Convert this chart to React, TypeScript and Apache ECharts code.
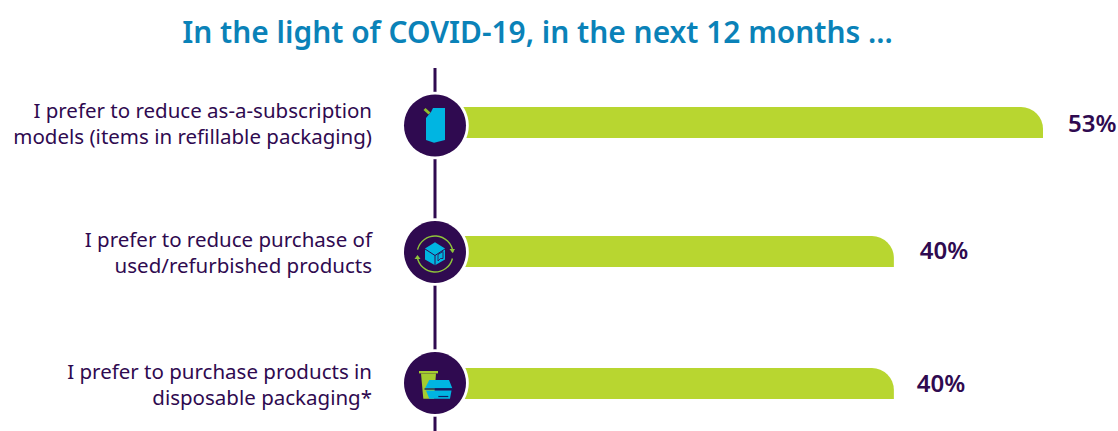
import React, { useEffect, useRef } from "react";
import * as echarts from "echarts";

const titleText = "In the light of COVID-19, in the next 12 months ...";
const categories = [
  "I prefer to reduce as-a-subscription\nmodels (items in refillable packaging)",
  "I prefer to reduce purchase of\nused/refurbished products",
  "I prefer to purchase products in\ndisposable packaging*",
];
const shares = [53, 40, 40];
const axisMax = 53;

const PURPLE = "#2f0a50";
const LIME = "#b8d630";
const BLUE = "#00b5e2";
const TITLE = "#0a82b8";
const FONT = "'Noto Sans', sans-serif";

const ROW_TOPS = [107, 236, 368];
const LABEL_GAPS = [25, 26, 23];
const LABEL_LIFT = [0, -2, -1];
const CIRCLE_Y = [125.5, 252, 383];
const CX = 435;

const poly = (points: number[][], fill: string, extra: any = {}) => ({
  type: "polygon", z: 13, shape: { points }, style: { fill, ...extra },
});
const seg = (x1: number, y1: number, x2: number, y2: number, stroke: string, lineWidth = 1) => ({
  type: "line", z: 14, shape: { x1, y1, x2, y2 }, style: { stroke, lineWidth },
});

function buildGraphics() {
  const els: any[] = [
    { type: "line", z: 9, shape: { x1: CX, y1: 68, x2: CX, y2: 431 }, style: { stroke: PURPLE, lineWidth: 3 } },
  ];
  CIRCLE_Y.forEach((cy) => {
    els.push({ type: "circle", z: 10, shape: { cx: CX, cy, r: 33.8 }, style: { fill: "#ffffff" } });
    els.push({ type: "circle", z: 11, shape: { cx: CX, cy, r: 31 }, style: { fill: PURPLE } });
  });
  // pouch
  els.push(seg(424.5, 109, 429.5, 113.5, "#8fbf2e", 3));
  els.push(poly([[445, 108], [433, 108], [431, 112], [426, 118], [426, 140], [434, 142.8], [445, 140]], BLUE));
  // box with arrows
  els.push({ type: "arc", z: 12, shape: { cx: CX, cy: 254, r: 18, startAngle: -2.9, endAngle: -0.1, clockwise: true }, style: { stroke: "#8fc43a", lineWidth: 1.4, fill: "none" } });
  els.push({ type: "arc", z: 12, shape: { cx: CX, cy: 254, r: 18, startAngle: 0.25, endAngle: 3.0, clockwise: true }, style: { stroke: "#8fc43a", lineWidth: 1.4, fill: "none" } });
  els.push(poly([[449.5, 249], [455, 249], [452.5, 253]], "#8fc43a"));
  els.push(poly([[414.5, 259], [420.5, 259], [417.5, 255]], "#8fc43a"));
  els.push(poly([[435, 242.3], [445, 248.5], [445, 259.5], [435, 265.3], [425, 259.5], [425, 248.5]], BLUE));
  els.push(seg(425, 249, 435, 255.5, PURPLE));
  els.push(seg(445, 249, 435, 255.5, PURPLE));
  els.push(seg(435, 255.5, 435, 265, PURPLE));
  els.push(poly([[438, 254.5], [443, 251.5], [443, 258.5], [440.5, 258.5], [438, 261]], BLUE, { stroke: PURPLE, lineWidth: 0.8 }));
  // cup and clamshell
  els.push({ type: "rect", z: 12, shape: { x: 419, y: 371, width: 19, height: 2.4 }, style: { fill: "#a4cc30" } });
  els.push(poly([[421, 373.4], [436, 373.4], [434, 398.7], [423.3, 398.7]], "#a4cc30"));
  els.push(poly([[425, 388.3], [429.3, 380], [449, 380], [452.3, 388.3]], BLUE));
  els.push({ type: "rect", z: 13, shape: { x: 424.5, y: 388.3, width: 28.5, height: 1.4 }, style: { fill: "#0d1f66" } });
  els.push(poly([[426, 390.5], [451.5, 390.5], [450, 398.7], [429.3, 398.7]], BLUE));
  els.push(seg(438.3, 396.5, 448.3, 396.5, "#0d1f66", 1.2));
  return els;
}

export default function App() {
  const ref = useRef<HTMLDivElement>(null);
  useEffect(() => {
    document.body.style.margin = "0";
    const chart = echarts.init(ref.current!, undefined, { renderer: "svg" });
    chart.setOption({
      animation: false,
      backgroundColor: "#ffffff",
      title: {
        text: titleText,
        left: 532.5,
        textAlign: "center",
        top: 11,
        textStyle: { color: TITLE, fontFamily: FONT, fontSize: 29.9, fontWeight: 600 },
      },
      grid: ROW_TOPS.map((top) => ({ left: CX, top, width: 608, height: 31 })),
      xAxis: ROW_TOPS.map((_, i) => ({
        type: "value", gridIndex: i, min: 0, max: axisMax, show: false,
      })),
      yAxis: categories.map((c, i) => ({
        type: "category",
        gridIndex: i,
        data: [c],
        axisLine: { show: false },
        axisTick: { show: false },
        axisLabel: {
          margin: 63,
          align: "right",
          color: PURPLE,
          fontFamily: FONT,
          fontSize: 20.5,
          lineHeight: 26,
          padding: [2, 0, 0, 0],
        },
      })),
      series: shares.map((v, i) => ({
        type: "bar",
        xAxisIndex: i,
        yAxisIndex: i,
        data: [v],
        barWidth: 31,
        itemStyle: { color: LIME, borderRadius: [0, 22, 0, 0] },
        label: {
          show: true,
          position: "right",
          distance: LABEL_GAPS[i],
          offset: [0, LABEL_LIFT[i]],
          formatter: "{c}%",
          color: PURPLE,
          fontFamily: FONT,
          fontSize: 24,
          fontWeight: 600,
        },
      })),
      graphic: { elements: buildGraphics() },
    });
    return () => chart.dispose();
  }, []);
  return <div ref={ref} style={{ position: "absolute", left: 0, top: 0, width: 1118, height: 431 }} />;
}
